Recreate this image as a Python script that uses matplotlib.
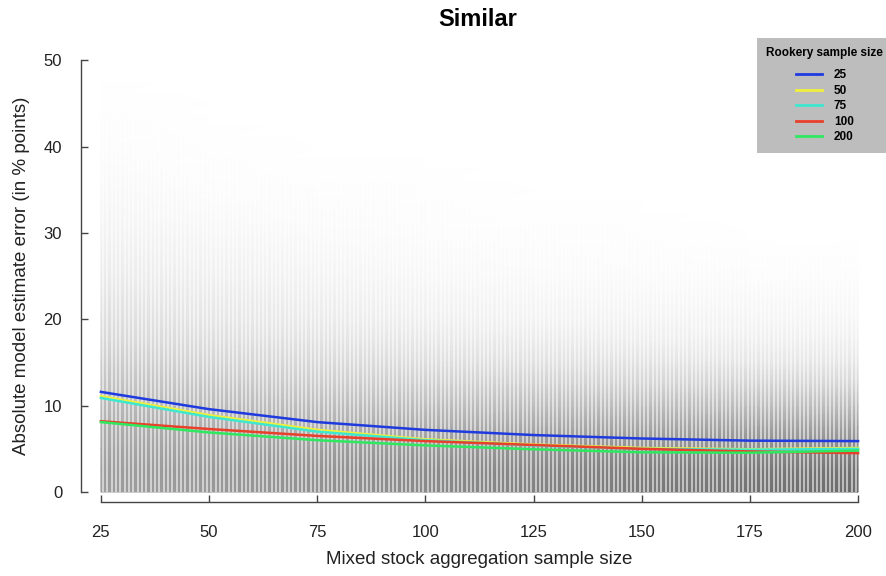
import numpy as np
import matplotlib
matplotlib.use('Agg')
import matplotlib.pyplot as plt

plt.rcParams['font.family'] = ['Liberation Sans', 'DejaVu Sans']

# mixed stock sample sizes where the fitted curves were read
x = [25, 50, 75, 100, 125, 150, 175, 200]
curves = {
    '25':  [11.6, 9.6, 8.1, 7.2, 6.6, 6.2, 5.95, 5.9],
    '50':  [11.1, 8.9, 7.2, 6.1, 5.5, 5.1, 4.95, 5.1],
    '75':  [10.9, 8.7, 7.0, 6.0, 5.4, 5.0, 4.9, 5.0],
    '100': [8.2, 7.3, 6.5, 5.9, 5.45, 5.0, 4.7, 4.5],
    '200': [8.1, 6.9, 6.0, 5.4, 4.95, 4.6, 4.55, 4.8],
}
colors = ['#1f3be0', '#f0f03a', '#3ee8d0', '#e8402a', '#2ee860']

# shading of the point cloud (0 = white, 1 = black), read by eye
cloud_x = [25, 50, 75, 100, 125, 150, 175, 200]
cloud_y = [0, 2.5, 5, 7.5, 10, 12.5, 15, 17.5, 20, 25, 30, 35, 40, 45, 50]
cloud = [
    [0.38, 0.38, 0.35, 0.32, 0.28, 0.24, 0.20, 0.16, 0.13, 0.08, 0.05, 0.03, 0.015, 0.005, 0],
    [0.40, 0.40, 0.36, 0.32, 0.27, 0.22, 0.17, 0.13, 0.10, 0.06, 0.035, 0.015, 0.005, 0.0, 0],
    [0.43, 0.42, 0.38, 0.32, 0.26, 0.20, 0.15, 0.11, 0.08, 0.045, 0.02, 0.008, 0, 0, 0],
    [0.46, 0.45, 0.40, 0.33, 0.26, 0.19, 0.13, 0.09, 0.06, 0.03, 0.012, 0.004, 0, 0, 0],
    [0.49, 0.47, 0.42, 0.34, 0.26, 0.18, 0.12, 0.08, 0.05, 0.02, 0.008, 0, 0, 0, 0],
    [0.52, 0.50, 0.44, 0.35, 0.26, 0.17, 0.11, 0.07, 0.045, 0.018, 0.004, 0, 0, 0, 0],
    [0.55, 0.52, 0.45, 0.36, 0.26, 0.17, 0.10, 0.065, 0.04, 0.015, 0.0, 0, 0, 0, 0],
    [0.58, 0.55, 0.47, 0.37, 0.26, 0.16, 0.10, 0.06, 0.035, 0.012, 0.0, 0, 0, 0, 0],
]
sample_sizes = np.arange(25, 201)


def main():
    fig = plt.figure(figsize=(8.86, 5.76), dpi=100)
    ax = fig.add_axes([81/886, 1-501.5/576, (878-81)/886, (501.5-51)/576])

    X, Y = np.meshgrid(cloud_x, cloud_y)
    ax.pcolormesh(X, Y, np.array(cloud).T, shading='gouraud', cmap='gray_r',
                  vmin=0, vmax=1, zorder=1)
    # white gaps between the integer sample-size columns
    ax.vlines(sample_sizes[:-1] + 0.5, 0, 50, color='white', lw=1.2, alpha=0.65, zorder=2)

    for (name, vals), c in zip(curves.items(), colors):
        ax.plot(x, vals, color=c, lw=1.8, label=name, zorder=3)

    ax.set_xlim(20.4, 204.6)
    ax.set_ylim(-1.1, 51.1)
    ax.spines['top'].set_visible(False)
    ax.spines['right'].set_visible(False)
    ax.spines['left'].set_bounds(0, 50)
    ax.spines['bottom'].set_bounds(25, 200)
    for s in ['left', 'bottom']:
        ax.spines[s].set_color('#444444')
        ax.spines[s].set_linewidth(1.0)
    ax.set_xticks(range(25, 201, 25))
    ax.set_yticks(range(0, 51, 10))
    ax.tick_params(axis='both', direction='in', length=5, width=1.0,
                   color='#444444', labelsize=12, labelcolor='#222222')
    ax.tick_params(axis='x', pad=17)
    ax.tick_params(axis='y', pad=13.5)

    ax.set_xlabel('Mixed stock aggregation sample size', fontsize=13.5, labelpad=8, color='#222222')
    ax.set_ylabel('Absolute model estimate error (in % points)', fontsize=13.5, labelpad=10, color='#222222')
    fig.text(478/886, 1-20/576, 'Similar', ha='center', va='center',
             fontsize=17, fontweight='bold')

    leg = ax.legend(title='Rookery sample size', loc='upper left',
                    bbox_to_anchor=(757/886, 1-38/576), bbox_transform=fig.transFigure,
                    borderaxespad=0,
                    frameon=True, fancybox=False, facecolor='#bdbdbd', edgecolor='none',
                    framealpha=1, prop={'weight': 'bold', 'size': 8.5},
                    title_fontproperties={'weight': 'bold', 'size': 8.5},
                    handlelength=2.2, handletextpad=1.0, labelspacing=0.3,
                    borderpad=0.8)
    leg._legend_box.sep = 7
    leg.set_zorder(5)
    for h in leg.get_lines():
        h.set_linewidth(2.0)

    fig.savefig('out.png', dpi=100)


if __name__ == '__main__':
    main()
